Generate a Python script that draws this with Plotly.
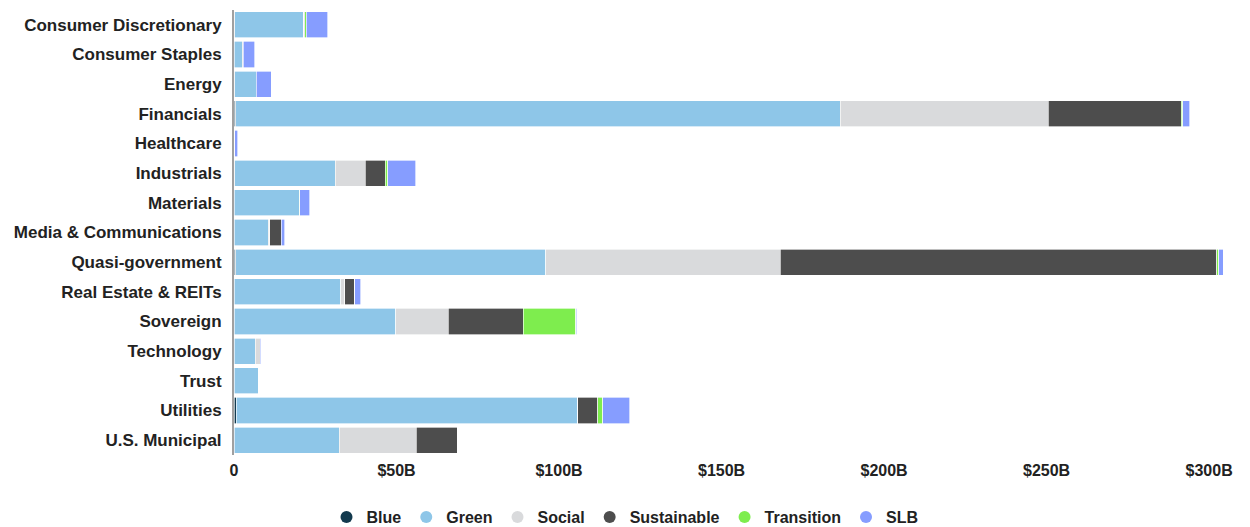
import plotly.graph_objects as go

# Issuance by sector and bond label, in $ billions
sectors = [
    "Consumer Discretionary", "Consumer Staples", "Energy", "Financials",
    "Healthcare", "Industrials", "Materials", "Media & Communications",
    "Quasi-government", "Real Estate & REITs", "Sovereign", "Technology",
    "Trust", "Utilities", "U.S. Municipal",
]

blue = [0.2, 0.0, 0.3, 0.5, 0.0, 0.3, 0.0, 0.0, 0.5, 0.0, 0.0, 0.0, 0.0, 0.7, 0.0]
green = [21.3, 2.6, 6.5, 186.0, 0.3, 30.8, 20.0, 10.5, 95.4, 32.8, 49.7, 6.5, 7.5, 105.0, 32.4]
social = [0.0, 0.2, 0.0, 64.0, 0.0, 9.3, 0.0, 0.5, 72.2, 1.3, 16.2, 1.5, 0.0, 0.0, 23.6]
sustainable = [0.3, 0.0, 0.0, 41.0, 0.0, 6.2, 0.0, 3.6, 134.3, 3.1, 23.1, 0.0, 0.0, 6.2, 12.7]
transition = [0.5, 0.0, 0.0, 0.4, 0.0, 0.7, 0.3, 0.0, 0.5, 0.0, 16.1, 0.0, 0.0, 1.6, 0.0]
slb = [6.5, 3.6, 4.6, 2.2, 0.8, 8.6, 3.0, 1.0, 1.4, 1.8, 0.3, 0.4, 0.0, 8.3, 0.0]

series = [
    ("Blue", blue, "#133a4e"),
    ("Green", green, "#8ec6e8"),
    ("Social", social, "#d9dadc"),
    ("Sustainable", sustainable, "#4d4d4d"),
    ("Transition", transition, "#7eed4e"),
    ("SLB", slb, "#869dff"),
]

tick_vals = [0, 50, 100, 150, 200, 250, 300]
tick_text = ["0", "$50B", "$100B", "$150B", "$200B", "$250B", "$300B"]

font_family = "Liberation Sans, Arial, sans-serif"

fig = go.Figure()

for name, values, color in series:
    fig.add_trace(go.Bar(
        y=sectors,
        x=values,
        name=name,
        orientation="h",
        marker=dict(color=color, line=dict(color="rgba(255,255,255,0.8)", width=0.8)),
        showlegend=False,
    ))

# Circular legend markers
for name, values, color in series:
    fig.add_trace(go.Scatter(
        x=[None], y=[None], mode="markers", name=name,
        marker=dict(symbol="circle", size=16, color=color),
        showlegend=True,
    ))

fig.update_layout(
    width=1250,
    height=527,
    barmode="stack",
    bargap=0.12,
    plot_bgcolor="white",
    paper_bgcolor="white",
    margin=dict(l=234, r=10, t=10, b=72, autoexpand=False),
    font=dict(family=font_family, color="#222222"),
    legend=dict(
        orientation="h",
        traceorder="normal",
        x=0.5, xanchor="center", xref="container",
        y=0.019, yanchor="middle", yref="container",
        font=dict(size=16, weight="bold", color="#222222"),
        itemsizing="constant",
        itemwidth=30,
    ),
    xaxis=dict(
        range=[0, 309.5],
        tickvals=tick_vals,
        ticktext=tick_text,
        showgrid=False,
        zeroline=False,
        showline=False,
        automargin=False,
        ticklabelstandoff=4,
        tickfont=dict(size=16, weight="bold", color="#222222"),
        fixedrange=True,
    ),
    yaxis=dict(
        categoryorder="array",
        categoryarray=sectors,
        autorange="reversed",
        showgrid=False,
        zeroline=False,
        showline=True,
        automargin=False,
        linecolor="#a0a0a0",
        linewidth=2,
        ticks="",
        ticklabelstandoff=7,
        tickfont=dict(size=17, weight="bold", color="#222222"),
    ),
)

fig.write_html("out.html")
